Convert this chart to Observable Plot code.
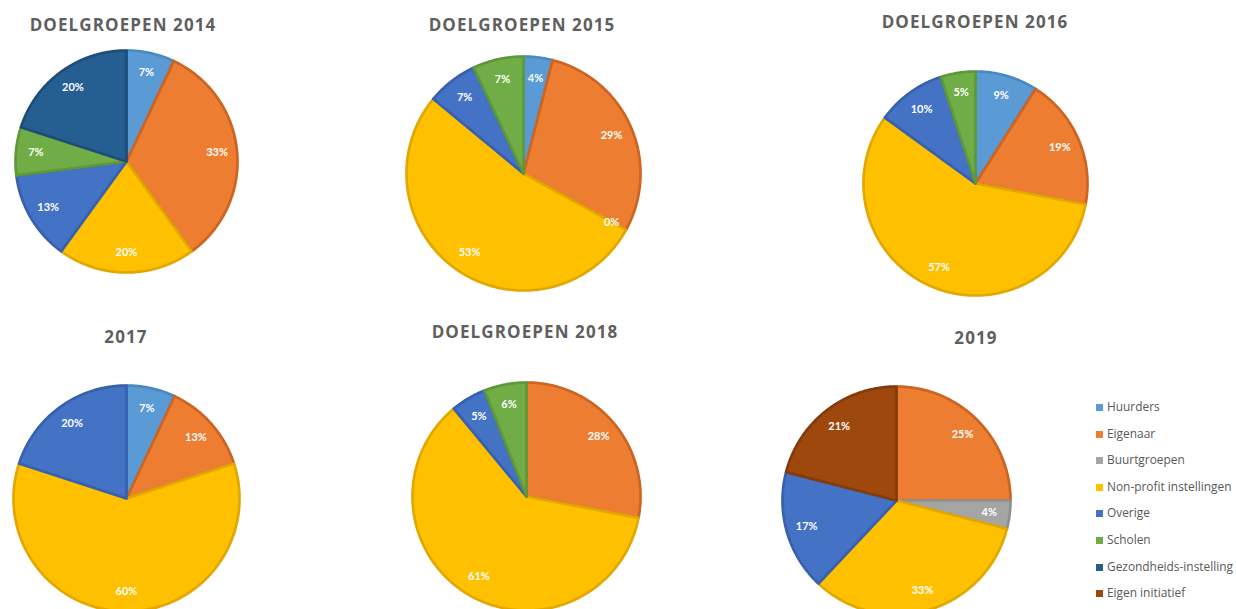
<!DOCTYPE html>
<html>
<head>
<meta charset="utf-8">
<script src="https://cdn.jsdelivr.net/npm/d3@7"></script>
<script src="https://cdn.jsdelivr.net/npm/@observablehq/plot@0.6"></script>
<style>
  html, body { margin: 0; padding: 0; background: #fff; }
  body { width: 1236px; height: 609px; position: relative; overflow: hidden; font-family: "Open Sans", Lato, sans-serif; }
  .title { position: absolute; transform: translate(-50%, -50%); font-family: "Open Sans", sans-serif; font-weight: 700; font-size: 17px; letter-spacing: 1.1px; color: #5f5f5f; white-space: nowrap; }
  .pie { position: absolute; }
  .legend { position: absolute; left: 1096px; top: 398px; font-family: "Open Sans", Lato, sans-serif; font-size: 11.9px; color: #595959; }
  .legend .row { height: 26.6px; display: flex; align-items: flex-start; white-space: nowrap; }
  .legend .sw { width: 7px; height: 7px; margin-right: 4px; margin-top: 6px; flex: none; }
</style>
</head>
<body>
<script>
// ---- data ----
const categories = ["Huurders", "Eigenaar", "Buurtgroepen", "Non-profit instellingen", "Overige", "Scholen", "Gezondheids-instelling", "Eigen initiatief"];
const titles = ["DOELGROEPEN 2014", "DOELGROEPEN 2015", "DOELGROEPEN 2016", "2017", "DOELGROEPEN 2018", "2019"];
// percentages per category (null = category absent in that year)
const values2014 = [7, 33, null, 20, 13, 7, 20, null];
const values2015 = [4, 29, 0, 53, 7, 7, null, null];
const values2016 = [9, 19, null, 57, 10, 5, null, null];
const values2017 = [7, 13, null, 60, 20, null, null, null];
const values2018 = [null, 28, null, 61, 5, 6, null, null];
const values2019 = [null, 25, 4, 33, 17, null, null, 21];

// ---- styles ----
const fills = ["#5B9BD5", "#ED7D31", "#A5A5A5", "#FFC000", "#4472C4", "#70AD47", "#255E91", "#9E480E"];
const strokes = ["#4A88C0", "#CC6422", "#8E8E8E", "#E0A800", "#3760AE", "#5E9839", "#1E4D78", "#843B0B"];

// ---- layout ----
const layout = [
  {cx: 126, cy: 161, r: 111, tx: 123, ty: 24},
  {cx: 523, cy: 173, r: 117, tx: 522, ty: 24},
  {cx: 975, cy: 183, r: 112, tx: 975, ty: 21},
  {cx: 126, cy: 498, r: 113, tx: 126, ty: 336},
  {cx: 526, cy: 496, r: 114, tx: 525, ty: 331},
  {cx: 896, cy: 500, r: 114, tx: 976, ty: 337}
];
const allValues = [values2014, values2015, values2016, values2017, values2018, values2019];

const fillOf = Object.fromEntries(categories.map((c, i) => [c, fills[i]]));
const strokeOf = Object.fromEntries(categories.map((c, i) => [c, strokes[i]]));

function piePlot(vals, r) {
  const m = 3;
  const rows = categories.map((c, i) => ({cat: c, v: vals[i]})).filter(d => d.v != null);
  const arcs = d3.pie().sort(null).value(d => d.v)(rows);
  const pts = [];
  const labels = [];
  for (const a of arcs) {
    const cat = a.data.cat;
    const mid = (a.startAngle + a.endAngle) / 2;
    const lr = a.data.v === 0 ? 0.86 : 0.82;
    labels.push({x: lr * Math.sin(mid), y: lr * Math.cos(mid), text: a.data.v + "%"});
    const span = a.endAngle - a.startAngle;
    if (span <= 0) continue;
    pts.push({cat, x: 0, y: 0});
    const n = Math.max(2, Math.ceil(span / (Math.PI / 360)));
    for (let k = 0; k <= n; k++) {
      const t = a.startAngle + span * k / n;
      pts.push({cat, x: Math.sin(t), y: Math.cos(t)});
    }
  }
  const size = 2 * r + 2 * m;
  return Plot.plot({
    width: size, height: size, margin: m,
    x: {domain: [-1, 1], axis: null},
    y: {domain: [-1, 1], axis: null},
    color: {type: "identity"},
    style: {background: "transparent", overflow: "visible"},
    marks: [
      Plot.line(pts, {x: "x", y: "y", z: "cat", curve: "linear-closed",
        fill: d => fillOf[d.cat], stroke: d => strokeOf[d.cat],
        strokeWidth: 2.7, strokeLinejoin: "round"}),
      Plot.text(labels, {x: "x", y: "y", text: "text", fill: "white",
        fontSize: 11, fontWeight: 700, fontFamily: "Lato, 'Open Sans', sans-serif"})
    ]
  });
}

allValues.forEach((vals, i) => {
  const L = layout[i];
  const t = document.createElement("div");
  t.className = "title";
  t.style.left = L.tx + "px";
  t.style.top = L.ty + "px";
  t.textContent = titles[i];
  document.body.appendChild(t);
  const wrap = document.createElement("div");
  wrap.className = "pie";
  wrap.style.left = (L.cx - L.r - 3) + "px";
  wrap.style.top = (L.cy - L.r - 3) + "px";
  wrap.appendChild(piePlot(vals, L.r));
  document.body.appendChild(wrap);
});

const legend = document.createElement("div");
legend.className = "legend";
categories.forEach((c, i) => {
  const row = document.createElement("div");
  row.className = "row";
  const sw = document.createElement("span");
  sw.className = "sw";
  sw.style.background = fills[i];
  const lab = document.createElement("span");
  lab.textContent = c;
  row.appendChild(sw);
  row.appendChild(lab);
  legend.appendChild(row);
});
document.body.appendChild(legend);
</script>
</body>
</html>
